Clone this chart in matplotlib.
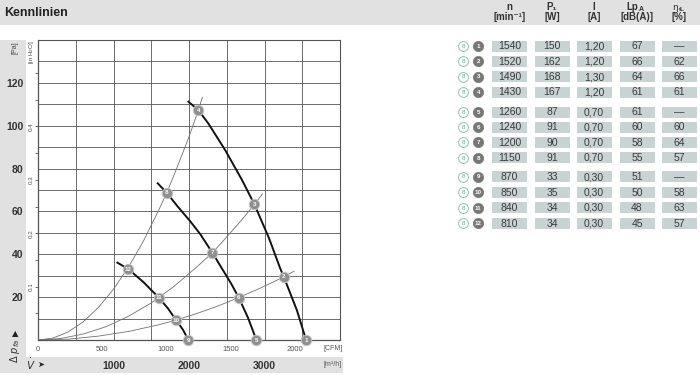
import matplotlib
matplotlib.use('Agg')
import matplotlib.pyplot as plt
from matplotlib.patches import Rectangle

plt.rcParams['font.family'] = ['Liberation Sans Narrow', 'Liberation Sans', 'DejaVu Sans']

# operating points 1..12 (Q in m3/h, dp in Pa)
op_ids = list(range(1, 13))
op_q = [3551, 3255, 2866, 2124, 2893, 2659, 2310, 1705, 1992, 1829, 1599, 1197]
op_p = [0, 29.5, 63.3, 107.3, 0, 19.8, 40.7, 68.7, 0, 9.3, 19.8, 33.1]

# fan curves
fan1_q = [1992, 2124, 2257, 2478, 2700, 2866, 3060, 3207, 3255, 3428, 3551]
fan1_p = [111.2, 107.3, 101.0, 88.7, 74.8, 63.3, 47.5, 33.5, 29.5, 14.0, 0]
fan2_q = [1586, 1705, 1850, 2014, 2147, 2310, 2434, 2560, 2659, 2780, 2893]
fan2_p = [73.1, 68.7, 62.3, 55.5, 49.5, 40.7, 33.5, 26.2, 19.8, 10.5, 0]
fan3_q = [1051, 1197, 1400, 1599, 1720, 1829, 1920, 1992]
fan3_p = [36.1, 33.1, 26.9, 19.8, 14.8, 9.3, 4.8, 0]

# system curves
sysa_q = [0, 200, 400, 600, 800, 1000, 1200, 1400, 1600, 1705, 1800, 2000, 2124, 2177]
sysa_p = [0, 0.9, 3.8, 8.5, 15.2, 23.7, 34.1, 46.4, 60.7, 68.7, 76.8, 94.8, 107.3, 113.3]
sysb_q = [0, 300, 600, 900, 1200, 1500, 1599, 1800, 2100, 2310, 2500, 2700, 2866, 2972]
sysb_p = [0, 0.7, 2.8, 6.2, 11.1, 17.3, 19.8, 25.0, 34.0, 40.7, 48.1, 56.1, 63.3, 68.1]
sysc_q = [0, 400, 800, 1200, 1600, 1829, 2100, 2400, 2659, 2900, 3100, 3255, 3392]
sysc_p = [0, 0.4, 1.8, 4.0, 7.1, 9.3, 12.3, 16.1, 19.8, 23.5, 26.8, 29.5, 32.1]

# table
n_rpm = [1540, 1520, 1490, 1430, 1260, 1240, 1200, 1150, 870, 850, 840, 810]
p1_w = [150, 162, 168, 167, 87, 91, 90, 91, 33, 35, 34, 34]
i_a = ['1,20', '1,20', '1,30', '1,20', '0,70', '0,70', '0,70', '0,70', '0,30', '0,30', '0,30', '0,30']
lp_db = [67, 66, 64, 61, 61, 60, 58, 55, 51, 50, 48, 45]
eta = ['—', 62, 66, 61, '—', 60, 64, 57, '—', 58, 63, 57]

band = '#e1e1e1'
fig = plt.figure(figsize=(7, 3.75), dpi=100)

# background overlay in pixel coordinates
bg = fig.add_axes([0, 0, 1, 1], zorder=0)
bg.set_xlim(0, 700)
bg.set_ylim(375, 0)
bg.axis('off')
bg.add_patch(Rectangle((0, 0), 700, 25, color=band, lw=0))
bg.add_patch(Rectangle((0, 40), 26, 317, color=band, lw=0))
bg.add_patch(Rectangle((0, 357), 343, 16, color=band, lw=0))
bg.text(4, 13, 'Kennlinien', fontsize=9, fontweight='bold', va='center', color='#222')

bg.text(15, 48, '[Pa]', fontsize=5, rotation=90, ha='center', va='center', color='#444')
bg.text(32, 52, '[in H$_2$O]', fontsize=4.5, rotation=90, ha='center', va='center', color='#444')
bg.text(15, 334, '▲', fontsize=6, ha='center', va='center', color='#222', family=['DejaVu Sans'])
bg.text(15, 351, r'$\Delta\ p_{fa}$', fontsize=7, rotation=90, ha='center', va='center', color='#333')
bg.text(31, 364, r'$\dot{V}$', fontsize=7.5, ha='center', va='center', color='#333')
bg.text(41, 364, '➤', fontsize=6, ha='center', va='center', color='#222', family=['DejaVu Sans'])
bg.text(333, 349, '[CFM]', fontsize=5, ha='center', va='center', color='#555')
bg.text(333, 364, '[m³/h]', fontsize=5, ha='center', va='center', color='#555')

# chart
ax = fig.add_axes([38 / 700, 35 / 375, 302 / 700, 300 / 375], zorder=1)
ax.set_xlim(0, 4000)
ax.set_ylim(0, 140)
ax.set_xticks(range(0, 4001, 500))
ax.set_xticklabels([])
yt = list(range(0, 141, 10))
ax.set_yticks(yt)
ax.set_yticklabels([str(v) if v % 20 == 0 and 0 < v < 140 else '' for v in yt])
ax.tick_params(axis='x', length=0)
ax.tick_params(axis='y', length=0, pad=10.5, labelsize=7.5, labelcolor='#333')
for lab in ax.get_yticklabels():
    lab.set_fontweight('bold')
ax.grid(True, color='#555555', lw=0.6)
for s in ax.spines.values():
    s.set_color('#555555')
    s.set_linewidth(0.8)

sec_y = ax.secondary_yaxis('left', functions=(lambda p: p / 249.089, lambda h: h * 249.089))
sec_y.set_yticks([0.1, 0.2, 0.3, 0.4])
sec_y.set_yticks([0.05, 0.15, 0.25, 0.35, 0.45, 0.5], minor=True)
sec_y.set_yticklabels(['0.1', '0.2', '0.3', '0.4'])
sec_y.tick_params(length=2, width=0.6, pad=1, labelsize=4.5, colors='#555', labelrotation=90)
sec_y.tick_params(which='minor', length=2, width=0.6, colors='#555')
for lab in sec_y.get_yticklabels():
    lab.set_va('center')

sec_cfm = ax.secondary_xaxis('bottom', functions=(lambda q: q / 1.699, lambda c: c * 1.699))
sec_cfm.set_xticks([0, 500, 1000, 1500, 2000])
sec_cfm.tick_params(length=0, pad=4, labelsize=5.5, labelcolor='#555')

sec_m3 = ax.secondary_xaxis(-0.06)
sec_m3.set_xticks([1000, 2000, 3000])
sec_m3.tick_params(length=0, pad=2, labelsize=7.5, labelcolor='#333')
sec_m3.spines['bottom'].set_visible(False)
for lab in sec_m3.get_xticklabels():
    lab.set_fontweight('bold')

for q, p in [(sysa_q, sysa_p), (sysb_q, sysb_p), (sysc_q, sysc_p)]:
    ax.plot(q, p, color='#707070', lw=0.6, zorder=3)
for q, p in [(fan1_q, fan1_p), (fan2_q, fan2_p), (fan3_q, fan3_p)]:
    ax.plot(q, p, color='#111111', lw=1.4, zorder=4)

ax.plot(op_q, op_p, 'o', ms=7.5, mfc='#8f8f8f', mec='#c4c4c4', mew=0.7, clip_on=False, zorder=5)
for i, q, p in zip(op_ids, op_q, op_p):
    ax.text(q, p, str(i), fontsize=4.5, color='white', fontweight='bold',
            ha='center', va='center', clip_on=False, zorder=6)

# circled 8 in chart
bg.scatter([324], [52], s=55, facecolor='white', edgecolor='#8cc4b4', lw=0.7, zorder=3)
bg.text(324, 52.3, '8', fontsize=4.5, color='#6aa898', ha='center', va='center', zorder=4)

# table header
col_x = [509.5, 552, 594, 637, 679]
heads = ['n', 'P₁', 'I', None, None]
units = ['[min⁻¹]', '[W]', '[A]', '[dB(A)]', '[%]']
for x, h, u in zip(col_x, heads, units):
    if h:
        bg.text(x, 7, h, fontsize=7, fontweight='bold', ha='center', va='center', color='#333')
    bg.text(x, 17.5, u, fontsize=7, fontweight='bold', ha='center', va='center', color='#333')
bg.text(638, 7, 'Lp', fontsize=7, fontweight='bold', ha='right', va='center', color='#333')
bg.text(638.5, 9.5, 'A', fontsize=5, fontweight='bold', ha='left', va='center', color='#333')
bg.text(678, 7, 'η', fontsize=6.5, ha='right', va='center', color='#333', family=['DejaVu Sans'])
bg.text(678.5, 9.5, 'tL', fontsize=4.5, fontweight='bold', ha='left', va='center', color='#333')

# table rows
row_y = [46, 61.3, 76.7, 92, 112, 127, 142.3, 157.7, 176.7, 192.3, 207.7, 223.3]
cell_c = '#c8d3d3'
for k, y in enumerate(row_y):
    vals = [n_rpm[k], p1_w[k], i_a[k], lp_db[k], eta[k]]
    for x, v in zip(col_x, vals):
        bg.add_patch(Rectangle((x - 17.5, y - 5.5), 35, 11, color=cell_c, lw=0))
        bg.text(x, y + 0.3, str(v), fontsize=7.5, ha='center', va='center', color='#3a3a3a')
    bg.scatter([463.3], [y], s=50, facecolor='white', edgecolor='#8cc4b4', lw=0.7, zorder=3)
    bg.text(463.3, y + 0.3, '8', fontsize=4.5, color='#6aa898', ha='center', va='center', zorder=4)
    bg.scatter([478.3], [y], s=55, facecolor='#777777', edgecolor='#777777', lw=0.5, zorder=3)
    bg.text(478.3, y + 0.3, str(op_ids[k]), fontsize=4.5, color='white', fontweight='bold',
            ha='center', va='center', zorder=4)

fig.savefig('out.png', dpi=100)
